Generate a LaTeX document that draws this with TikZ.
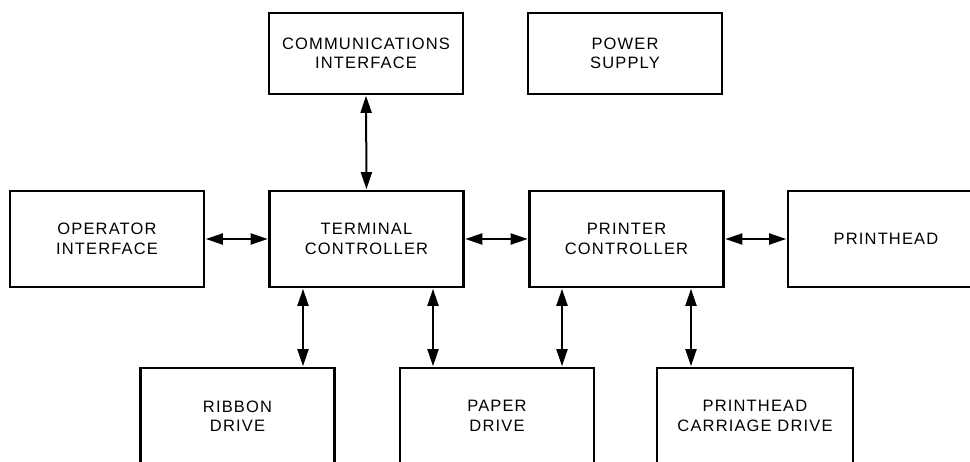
\documentclass[tikz,border=0pt]{standalone}
\usepackage{fontspec}
\setmainfont{Liberation Sans}[LetterSpace=7]
\usetikzlibrary{arrows.meta}
\begin{document}
\begin{tikzpicture}[x=1pt,y=-1pt,
  blk/.style={draw, line width=2.4pt, minimum width=194pt, minimum height=96pt,
    inner sep=0pt, align=center, font=\fontsize{16.5}{19.5}\selectfont},
  link/.style={{Triangle[length=17pt,width=11pt]}-{Triangle[length=17pt,width=11pt]}, line width=2pt, shorten <=0.6pt, shorten >=0.6pt}]
\path[use as bounding box] (0,0) rectangle (970,461);
\clip (0,0) rectangle (970,461);
\node[blk, minimum height=81pt] (comm)  at (366,53.5) {COMMUNICATIONS\\INTERFACE};
\node[blk, minimum height=81pt] (power) at (625,53.5) {POWER\\SUPPLY};
\node[blk] (oper) at (107,239)   {OPERATOR\\INTERFACE};
\node[blk] (term) at (366.5,239) {TERMINAL\\CONTROLLER};
\node[blk] (prin) at (626.5,239) {PRINTER\\CONTROLLER};
\node[blk, minimum width=196pt] (head) at (886,239) {PRINTHEAD};
\node[blk] (rib) at (237.5,416)  {RIBBON\\DRIVE};
\node[blk] (pap) at (497,416)    {PAPER\\DRIVE};
\node[blk, minimum width=196pt] (car) at (755,416) {PRINTHEAD\\CARRIAGE DRIVE};
\draw[link] (comm.south) -- (term.north);
\draw[link] (oper.east) -- (term.west);
\draw[link] (term.east) -- (prin.west);
\draw[link] (prin.east) -- (head.west);
\draw[link] ([xshift=-63.5pt]term.south) -- ([xshift=-63.5pt]term.south |- rib.north);
\draw[link] ([xshift=66.5pt]term.south) -- ([xshift=66.5pt]term.south |- pap.north);
\draw[link] ([xshift=-64.5pt]prin.south) -- ([xshift=-64.5pt]prin.south |- pap.north);
\draw[link] ([xshift=64.5pt]prin.south) -- ([xshift=64.5pt]prin.south |- car.north);
\end{tikzpicture}
\end{document}
